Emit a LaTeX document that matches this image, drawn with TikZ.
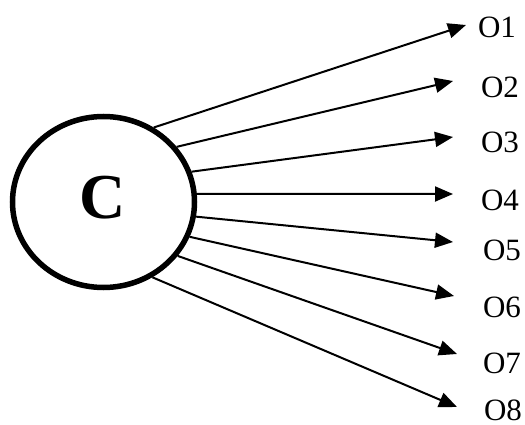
\documentclass[tikz,border=0pt]{standalone}
\usepackage{fontspec}
\setmainfont{Liberation Serif}
\usepackage{tikz}
\usetikzlibrary{shapes.geometric,arrows.meta}

\begin{document}
\begin{tikzpicture}[x=1pt,y=-1pt,line width=2pt,
  outlbl/.style={anchor=base west,inner sep=0pt,font=\fontsize{31}{31}\selectfont},
  outarrow/.style={-{Triangle[length=18pt,width=15pt]}}]
\useasboundingbox (0,0) rectangle (525,425);
\node[ellipse,draw,line width=5.5pt,minimum width=182pt,minimum height=171pt,inner sep=0pt] (c) at (103.5,202) {};
\node[font=\fontsize{64}{64}\selectfont\bfseries] (clbl) at (103,198) {C};
\node[outlbl] (o1) at (477,38) {O1};
\node[outlbl] (o2) at (480,98) {O2};
\node[outlbl] (o3) at (480,153) {O3};
\node[outlbl] (o4) at (480,210) {O4};
\node[outlbl] (o5) at (482,260) {O5};
\node[outlbl] (o6) at (482,317) {O6};
\node[outlbl] (o7) at (482,373) {O7};
\node[outlbl] (o8) at (483,420) {O8};
\coordinate (t1) at (466,25);
\coordinate (t2) at (453,81);
\coordinate (t3) at (453,137);
\coordinate (t4) at (453,194);
\coordinate (t5) at (453,242);
\coordinate (t6) at (454,296);
\coordinate (t7) at (457,354);
\coordinate (t8) at (457,407);
\draw[outarrow] (c.56) -- (t1);
\draw[outarrow] (c.37) -- (t2);
\draw[outarrow] (c.19) -- (t3);
\draw[outarrow] (c.5) -- (t4);
\draw[outarrow] (c.-9) -- (t5);
\draw[outarrow] (c.-22) -- (t6);
\draw[outarrow] (c.-36) -- (t7);
\draw[outarrow] (c.-57) -- (t8);
\end{tikzpicture}
\end{document}
